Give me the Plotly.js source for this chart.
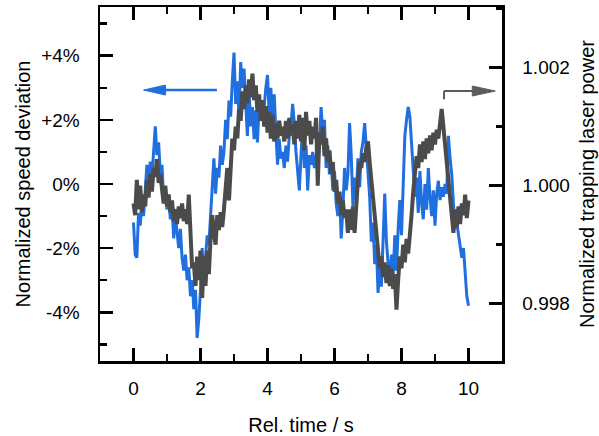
<!DOCTYPE html>
<html>
<head>
<meta charset="utf-8">
<script src="https://cdn.plot.ly/plotly-3.0.1.min.js"></script>
<style>html,body{margin:0;padding:0;background:#fff;}#chart{width:599px;height:436px;}</style>
</head>
<body>
<div id="chart"></div>
<script>
// Sampling step of the recording (s)
const timeStep = 0.05;

// Normalized speed deviation (%), left axis, read every 0.05 s from 0 to 10 s
const speedDeviation = [
 -1.2,-2.2,-2.3,-0.9,-1.3,-0.6,-1.0,-0.2,0.6,-0.3,
 0.7,0.2,1.2,1.8,0.9,1.3,0.3,0.6,-0.5,-0.2,
 -0.8,-0.4,-1.1,-0.7,-1.7,-1.0,-1.5,-2.0,-1.4,-2.3,
 -2.7,-2.2,-3.0,-2.6,-3.5,-3.0,-3.9,-3.3,-4.8,-4.2,
 -3.3,-2.0,-3.0,-2.3,-1.6,-1.9,-1.0,0.0,0.8,-0.3,
 0.5,0.2,1.2,0.6,1.0,2.0,1.4,2.6,2.1,3.2,
 4.1,2.5,3.2,2.1,3.8,3.0,3.6,2.5,1.5,2.9,
 1.8,2.4,1.4,2.3,1.3,2.5,2.0,2.6,2.4,3.0,
 3.4,2.2,3.0,1.9,2.8,1.6,0.6,1.4,0.8,1.0,
 0.5,1.2,0.7,1.5,1.8,2.5,1.9,1.0,0.4,-0.2,
 0.9,1.8,0.5,1.2,-0.2,0.9,0.6,1.0,0.5,0.9,
 0.7,1.3,2.4,1.6,2.0,0.5,1.2,0.3,0.7,-0.2,
 0.4,-0.6,-1.0,-0.3,-1.7,-0.8,0.5,-0.2,0.3,1.9,
 0.9,-0.7,0.2,-0.4,0.8,-0.1,1.0,1.3,1.9,1.2,
 0.6,-0.4,-1.8,-1.2,-2.5,-1.9,-3.4,-2.6,-3.2,-1.5,
 -0.3,-1.8,-2.6,-3.1,-2.2,-2.9,-1.6,-2.7,-1.4,-0.5,
 -1.6,0.3,1.5,2.0,2.4,2.1,1.3,0.5,-0.4,0.2,
 -0.9,0.4,-0.6,-1.1,0.0,-0.8,0.5,-0.4,-1.0,-0.2,
 -1.3,-0.3,0.1,-0.5,-0.1,-0.4,0.0,-0.3,1.5,0.8,
 0.3,-0.6,-1.4,-1.2,-1.6,-2.0,-2.3,-2.0,-2.8,-3.5,
 -3.8
];

// Normalized trapping laser power, right axis, read every 0.05 s from 0 to 10 s
const laserPower = [
 0.99970,0.99950,1.00010,0.99960,1.00000,0.99955,0.99985,0.99965,1.00010,0.99980,
 1.00020,0.99990,1.00030,1.00015,1.00045,1.00005,1.00020,0.99990,0.99970,1.00000,
 0.99965,0.99985,0.99955,0.99975,0.99940,0.99960,0.99935,0.99965,0.99945,0.99970,
 0.99940,0.99960,0.99935,0.99985,0.99935,0.99860,0.99870,0.99830,0.99880,0.99840,
 0.99890,0.99810,0.99880,0.99830,0.99890,0.99850,0.99910,0.99950,0.99920,0.99900,
 0.99950,0.99925,0.99955,0.99930,0.99960,0.99990,1.00030,0.99975,1.00040,1.00080,
 1.00060,1.00100,1.00080,1.00130,1.00110,1.00160,1.00130,1.00170,1.00140,1.00180,
 1.00150,1.00190,1.00145,1.00170,1.00125,1.00155,1.00110,1.00145,1.00100,1.00135,
 1.00090,1.00125,1.00080,1.00120,1.00075,1.00105,1.00080,1.00110,1.00085,1.00100,
 1.00075,1.00110,1.00080,1.00115,1.00085,1.00105,1.00070,1.00110,1.00080,1.00120,
 1.00075,1.00115,1.00060,1.00125,1.00085,1.00110,1.00070,1.00100,1.00080,1.00115,
 1.00000,1.00090,1.00070,1.00100,1.00050,1.00080,1.00040,1.00060,1.00020,1.00040,
 0.99990,1.00010,0.99970,0.99990,0.99950,0.99975,0.99945,0.99960,0.99920,0.99960,
 0.99925,0.99965,0.99920,0.99980,1.00010,1.00040,1.00030,1.00055,1.00040,1.00065,
 1.00075,1.00040,1.00010,0.99970,0.99940,0.99920,0.99880,0.99860,0.99880,0.99845,
 0.99870,0.99835,0.99865,0.99830,0.99860,0.99825,0.99850,0.99790,0.99840,0.99880,
 0.99860,0.99900,0.99870,0.99910,0.99885,0.99930,0.99950,0.99990,1.00020,1.00050,
 1.00030,1.00070,1.00040,1.00075,1.00045,1.00080,1.00055,1.00085,1.00060,1.00090,
 1.00070,1.00095,1.00080,1.00110,1.00130,1.00100,1.00070,1.00030,1.00000,0.99970,
 0.99945,0.99920,0.99960,0.99930,0.99965,0.99935,0.99970,0.99950,0.99985,0.99945,
 0.99975
];

// Tick labels
const xTickVals = [0, 2, 4, 6, 8, 10];
const xTickText = ['0', '2', '4', '6', '8', '10'];
const yTickVals = [-4, -2, 0, 2, 4];
const yTickText = ['-4%', '-2%', '0%', '+2%', '+4%'];
const y2TickVals = [0.998, 1.000, 1.002];
const y2TickText = ['0.998', '1.000', '1.002'];

const timeValues = speedDeviation.map((_, i) => +(i * timeStep).toFixed(2));

const blue = '#1f6fe0';
const gray = '#4b4b4b';
const arrowGray = '#5c5c5c';
const fontFam = 'Liberation Sans, Arial, sans-serif';

const traces = [
  {x: timeValues, y: speedDeviation, type: 'scatter', mode: 'lines',
   line: {color: blue, width: 3}, yaxis: 'y', name: 'speed', hoverinfo: 'none'},
  {x: timeValues, y: laserPower, type: 'scatter', mode: 'lines',
   line: {color: gray, width: 4}, yaxis: 'y2', name: 'power', hoverinfo: 'none'}
];

const axisCommon = {
  showline: true, linecolor: '#000', linewidth: 2.5,
  ticks: 'inside', tickcolor: '#000', tickwidth: 2.5, ticklen: 13,
  showgrid: false, zeroline: false,
  tickfont: {family: fontFam, size: 19, color: '#000'}
};

const layout = {
  width: 599, height: 436,
  margin: {l: 100, r: 97, t: 7, b: 75, pad: 0},
  paper_bgcolor: '#fff', plot_bgcolor: '#fff',
  showlegend: false,
  font: {family: fontFam, color: '#000'},
  xaxis: Object.assign({}, axisCommon, {
    range: [-1, 11], tickmode: 'array', tickvals: xTickVals, ticktext: xTickText,
    mirror: 'ticks', ticklabelstandoff: 9,
    minor: {tickmode: 'linear', tick0: 1, dtick: 2, ticks: 'inside', ticklen: 7, tickwidth: 2.5, tickcolor: '#000'},
    title: {text: 'Rel. time / s', font: {family: fontFam, size: 20, color: '#000'}, standoff: 20}
  }),
  yaxis: Object.assign({}, axisCommon, {
    range: [-5.52, 5.52], tickmode: 'array', tickvals: yTickVals, ticktext: yTickText,
    mirror: false, ticklabelstandoff: 14,
    minor: {tickmode: 'linear', tick0: 1, dtick: 2, ticks: 'inside', ticklen: 7, tickwidth: 2.5, tickcolor: '#000'},
    title: {text: 'Normalized speed deviation', font: {family: fontFam, size: 20, color: '#000'}, standoff: 5}
  }),
  yaxis2: Object.assign({}, axisCommon, {
    overlaying: 'y', side: 'right',
    range: [0.997029, 1.003029], tickmode: 'array', tickvals: y2TickVals, ticktext: y2TickText,
    ticklabelstandoff: 14,
    minor: {tickmode: 'linear', tick0: 0.999, dtick: 0.002, ticks: 'inside', ticklen: 6, tickwidth: 2.5, tickcolor: '#000'},
    title: {text: 'Normalized trapping laser power', font: {family: fontFam, size: 20, color: '#000'}, standoff: 11}
  }),
  shapes: [
    // blue arrow shaft and head (pointing to the left axis)
    {type: 'line', xref: 'x', yref: 'y', x0: 0.9, x1: 2.49, y0: 2.93, y1: 2.93,
     line: {color: blue, width: 2.5}},
    {type: 'path', xref: 'x', yref: 'y', xsizemode: 'pixel', ysizemode: 'pixel',
     xanchor: 0.3, yanchor: 2.93, path: 'M0,0 L22,5 L22,-5 Z',
     fillcolor: blue, line: {color: blue, width: 1}},
    // gray arrow (pointing to the right axis)
    {type: 'line', xref: 'x', yref: 'y', x0: 9.27, x1: 9.27, y0: 2.64, y1: 2.90,
     line: {color: arrowGray, width: 2}},
    {type: 'line', xref: 'x', yref: 'y', x0: 9.27, x1: 10.2, y0: 2.90, y1: 2.90,
     line: {color: arrowGray, width: 2}},
    {type: 'path', xref: 'x', yref: 'y', xsizemode: 'pixel', ysizemode: 'pixel',
     xanchor: 10.8, yanchor: 2.90, path: 'M0,0 L-23,5 L-23,-5 Z',
     fillcolor: arrowGray, line: {color: arrowGray, width: 1}}
  ]
};

Plotly.newPlot('chart', traces, layout, {staticPlot: true, displayModeBar: false});
</script>
</body>
</html>
